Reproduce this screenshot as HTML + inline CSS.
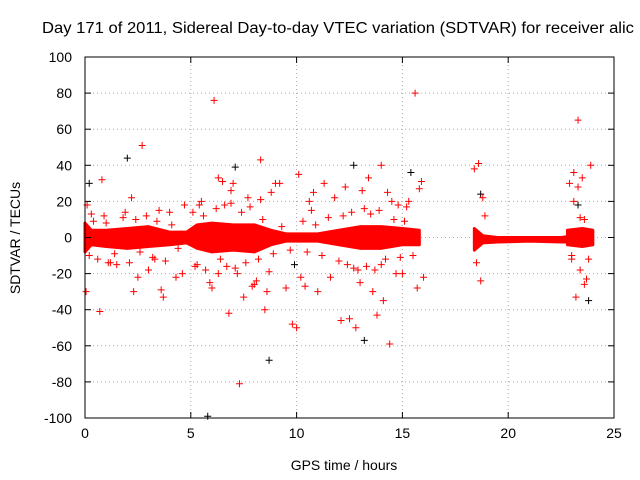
<!DOCTYPE html>
<html><head><meta charset="utf-8"><style>
body{margin:0;background:#fff;}
svg{display:block;font-family:"Liberation Sans",sans-serif;}
</style></head><body>
<svg id="chart" width="640" height="480">
<text x="42" y="33" font-size="15.5" textLength="592" lengthAdjust="spacingAndGlyphs">Day 171 of 2011, Sidereal Day-to-day VTEC variation (SDTVAR) for receiver alic</text>
<text x="344" y="470" font-size="14" text-anchor="middle">GPS time / hours</text>
<text transform="translate(20,238) rotate(-90)" font-size="14" text-anchor="middle">SDTVAR / TECUs</text>
<g id="grid"></g><g id="band"></g><g id="pts"></g><g id="axes"></g>
</svg>
<script>
const xTicks=[0,5,10,15,20,25];
const yTicks=[-100,-80,-60,-40,-20,0,20,40,60,80,100];
const band1Hours=[0,0.3,1,2,3,4,4.8,5.3,6,7,8,8.8,9.5,11,12,13,14,15,15.8];
const band1Lo=[-8,-4,-5,-6,-5,-4,-3,-6,-8,-7,-8,-4,-2,-2,-4,-6,-6,-4,-4];
const band1Hi=[8,4,4,5,6,3,3,7,8,7,7,4,2,2,4,6,6,5,4];
const band2Hours=[18.4,18.8,19.5,21,22.5,22.8];
const band2Lo=[-7,-3,-2.5,-2,-2.5,-2.5];
const band2Hi=[5,1,0,0,0,0.5];
const band3Hours=[22.8,23.5,24];
const band3Lo=[-4,-5,-4];
const band3Hi=[4,5,4];
const redX=[0.05,0.1,0.7,0.8,0.9,2.7,2.3,2.5,3.6,3.7,3.5,4.3,4.6,4.7,6.1,6.3,6.5,6.8,7.3,7.5,7.9,8.3,8.5,8.6,8.8,9.2,9.8,10.0,10.1,10.4,10.8,11.0,11.3,12.1,12.5,12.8,13.4,13.8,14.0,14.1,14.4,14.7,15.3,15.6,15.7,15.8,15.9,16.0,18.4,18.6,18.7,18.8,22.9,23.1,23.2,23.3,23.4,23.5,23.6,23.7,23.9,23.6,23.3,23.0,23.1,1.5,2.2,3.0,5.5,5.9,6.9,7.2,7.7,8.1,9.0,9.5,10.6,11.6,12.3,12.9,13.1,13.6,14.3,14.8,1.2,4.0,6.0,7.0,8.0,10.2,11.8,13.0,14.5,15.0,
0.2,0.4,0.6,1.0,1.4,1.8,2.1,2.4,2.6,2.9,3.2,3.4,3.8,4.1,4.4,5.1,5.3,5.6,5.7,6.2,6.4,6.6,6.7,7.4,7.6,7.8,8.2,8.4,8.9,9.3,9.7,10.3,10.5,10.9,11.2,11.5,12.0,12.2,12.4,12.6,13.3,13.5,13.7,13.9,14.2,14.6,14.9,15.1,15.5,0.3,1.1,1.9,3.3,5.2,5.4,6.3,6.9,7.1,8.3,8.7,10.7,12.7,13.2,14.0,15.2,18.5,18.9,23.0,23.4,23.8];
const redY=[-30,18,-41,32,12,51,-30,-22,-29,-33,15,-22,-20,18,76,33,31,-42,-81,-33,-27,43,-40,-30,25,30,-48,-50,35,-27,25,-30,30,-46,-45,-50,33,-43,40,-35,-59,-20,20,80,-28,27,31,-22,38,41,-24,22,30,36,-33,65,-18,33,-26,-23,40,10,28,-10,20,-15,22,-18,20,-25,26,-20,22,-24,30,-28,20,-22,28,-18,26,-30,25,18,-14,14,-28,30,-26,-22,22,-25,20,-20,
-10,9,-12,8,-9,11,-14,10,-8,12,-11,9,-13,7,-6,14,-15,12,-18,16,-12,18,-16,14,-14,17,-12,10,-9,6,-7,9,-8,7,-10,11,-13,12,-15,14,-16,13,-18,15,-12,10,-11,9,-10,13,-14,14,-12,-16,18,-20,19,-17,21,-19,15,-17,16,-15,17,-14,12,-12,11,-12];
const blackX=[2.0,5.8,8.7,12.7,13.2,23.8,0.2,7.1,9.9,15.4,18.7,23.3];
const blackY=[44,-99,-68,40,-57,-35,30,39,-15,36,24,18];
const L=85,R=614,T=57,B=418;
const sx=h=>L+(h-0)/(25-0)*(R-L);
const sy=v=>B-(v+100)/200*(B-T);
const NS="http://www.w3.org/2000/svg";
function mk(tag,attrs,parent){const e=document.createElementNS(NS,tag);for(const k in attrs)e.setAttribute(k,attrs[k]);parent.appendChild(e);return e;}
const grid=document.getElementById('grid'),axes=document.getElementById('axes');
xTicks.forEach(t=>{
 if(t>0&&t<25){const g=mk('line',{x1:sx(t),x2:sx(t),y1:T,y2:B,stroke:'#aaa','stroke-dasharray':'1,3'},grid);
 
 }
 const tx=mk('text',{x:sx(t),y:B+20,'font-size':14,'text-anchor':'middle'},axes);tx.textContent=t;
 
 
 mk('line',{x1:sx(t),x2:sx(t),y1:B,y2:B-6,stroke:'#000'},axes);
 mk('line',{x1:sx(t),x2:sx(t),y1:T,y2:T+6,stroke:'#000'},axes);
});
yTicks.forEach(t=>{
 if(t>-100&&t<100){const g=mk('line',{x1:L,x2:R,y1:sy(t),y2:sy(t),stroke:'#aaa','stroke-dasharray':'1,3'},grid);
 
 }
 const tx=mk('text',{x:L-13,y:sy(t)+5,'font-size':14,'text-anchor':'end'},axes);tx.textContent=t;
 
 
 mk('line',{x1:L,x2:L+6,y1:sy(t),y2:sy(t),stroke:'#000'},axes);
 mk('line',{x1:R,x2:R-6,y1:sy(t),y2:sy(t),stroke:'#000'},axes);
});
const fr=mk('rect',{x:L,y:T,width:R-L,height:B-T,fill:'none',stroke:'#000'},axes);


const bandG=document.getElementById('band');
[[band1Hours,band1Lo,band1Hi],[band2Hours,band2Lo,band2Hi],[band3Hours,band3Lo,band3Hi]].forEach(([h,lo,hi])=>{
 let d='M'+h.map((x,i)=>sx(x)+','+sy(hi[i])).join('L');
 for(let i=h.length-1;i>=0;i--)d+='L'+sx(h[i])+','+sy(lo[i]);
 const p=mk('path',{d:d+'Z',fill:'#f00',stroke:'#f00','stroke-width':3,'stroke-linejoin':'round'},bandG);
 
 
});
const pts=document.getElementById('pts');
function cross(x,y,c,name){const px=sx(x),py=sy(y);
 const p=mk('path',{d:`M${px-3.5},${py}h7M${px},${py-3.5}v7`,stroke:c,'stroke-width':1},pts);
 
 }
blackX.forEach((x,i)=>cross(x,blackY[i],'#000','black-point'));
redX.forEach((x,i)=>cross(x,redY[i],'#f00','red-point'));
</script>
</body></html>
